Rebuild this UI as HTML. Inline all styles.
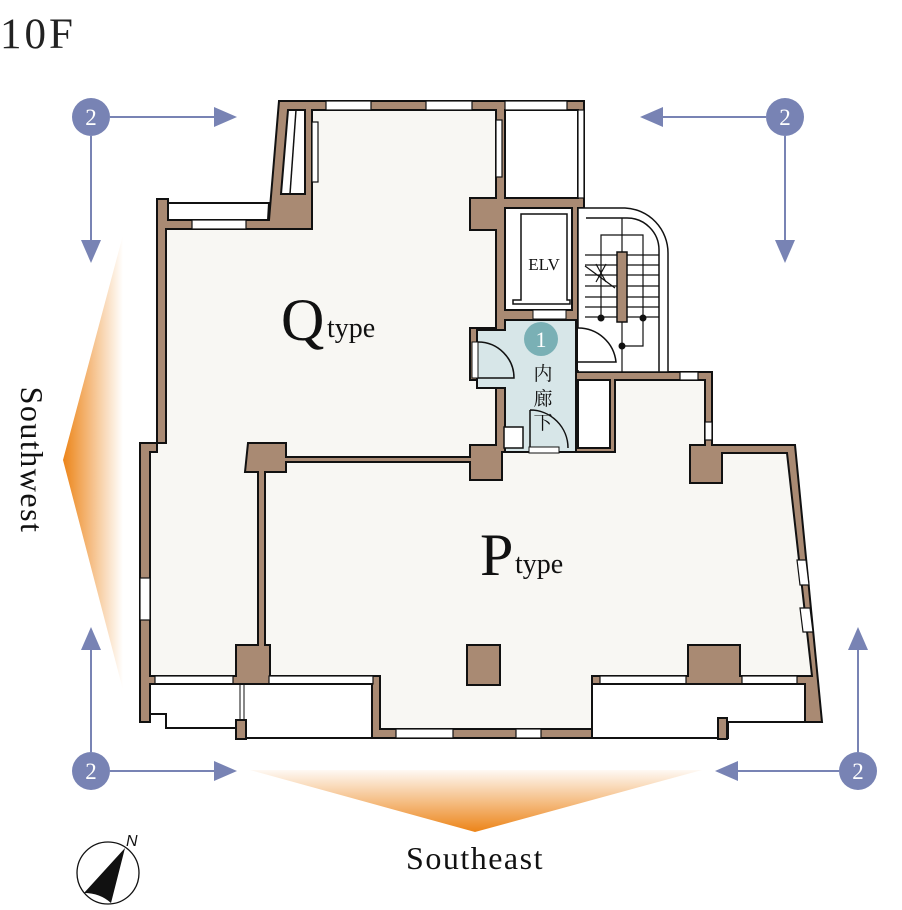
<!DOCTYPE html>
<html><head><meta charset="utf-8"><style>
html,body{margin:0;padding:0;background:#fff;}
svg{display:block;}
</style></head><body>
<svg width="902" height="910" viewBox="0 0 902 910" xmlns="http://www.w3.org/2000/svg">
<defs>
<linearGradient id="gl" x1="0" y1="0" x2="1" y2="0">
<stop offset="0" stop-color="#ec8418"/><stop offset="1" stop-color="#ec8418" stop-opacity="0"/>
</linearGradient>
<linearGradient id="gb" x1="0" y1="1" x2="0" y2="0">
<stop offset="0" stop-color="#ec8418"/><stop offset="1" stop-color="#ec8418" stop-opacity="0.05"/>
</linearGradient>
</defs>
<text x="0" y="48" font-family="Liberation Serif, serif" font-size="43" fill="#222" letter-spacing="3">10F</text>

<!-- orange view fans -->
<polygon points="123,235 63,460 123,690" fill="url(#gl)"/>
<polygon points="250,770 702,770 475,832" fill="url(#gb)"/>

<!-- building walls base -->
<g stroke="#111" stroke-width="2" stroke-linejoin="miter">
<polygon fill="#a98a73" points="279,101 584,101 584,208 578,208 578,372 712,372 712,445 795,445 822,722 805,722 805,684 592,684 592,738 372,738 372,684 150,684 150,722 140,722 140,443 157,443 157,199 168,199 168,220 269,220"/>
<!-- Q floor -->
<polygon fill="#f8f7f3" points="312,110 496,110 496,198 470,198 470,230 496,230 496,328 470,328 470,380 496,380 496,445 470,445 470,457 286,457 286,443 248,443 245,472 258,472 258,645 236,645 236,676 150,676 150,452 157,452 157,443 166,443 166,229 312,229"/>
<!-- P floor -->
<polygon fill="#f8f7f3" points="265,472 286,472 286,462 470,462 470,480 502,480 502,452 615,452 615,380 705,380 705,445 690,445 690,483 722,483 722,453 787,453 812,676 740,676 740,645 688,645 688,676 592,676 592,729 380,729 380,676 270,676 270,645 265,645"/>
<rect x="467" y="645" width="33" height="40" fill="#a98a73"/>
<!-- top-left balcony & window strip -->
<polygon fill="#fff" points="168,203 269,203 268,220 168,220"/>
<polygon fill="#fff" points="288,110 305,110 305,194 281,194"/>
<line x1="296" y1="110" x2="290" y2="194" stroke-width="1.5"/>
<!-- north-east box -->
<rect x="505" y="110" width="73" height="88" fill="#fff"/>
<!-- ELV -->
<rect x="505" y="208" width="67" height="102" fill="#fff"/>
<polygon fill="none" stroke-width="1.5" points="521,214 567,214 567,300 570,300 570,304 513,304 513,300 521,300"/>
<!-- stair -->
<path d="M578,208 H625 A45,45 0 0 1 668,253 V372 H578 Z" fill="#fff" stroke-width="1.5"/>
<path d="M586,218 H627 A32,32 0 0 1 659,250 V372" fill="none" stroke-width="1.5"/>
<g stroke-width="1.2">
<line x1="585" y1="255" x2="659" y2="255"/><line x1="585" y1="265" x2="659" y2="265"/>
<line x1="585" y1="275" x2="659" y2="275"/><line x1="585" y1="286" x2="659" y2="286"/>
<line x1="585" y1="297" x2="659" y2="297"/><line x1="585" y1="307" x2="659" y2="307"/>
<line x1="585" y1="317" x2="659" y2="317"/>
<polyline fill="none" points="601,318 601,235 643,235 643,318"/>
<line x1="622" y1="218" x2="622" y2="372"/>
<polyline fill="none" points="622,346 643,346 643,318"/>
<line x1="585" y1="266" x2="615" y2="288"/>
<line x1="596" y1="264" x2="606" y2="282"/><line x1="606" y1="264" x2="596" y2="282"/>
</g>
<rect x="617" y="252" width="10" height="70" fill="#a98a73" stroke-width="1.5"/>
<circle cx="601" cy="318" r="2.5" fill="#111"/><circle cx="643" cy="318" r="2.5" fill="#111"/><circle cx="622" cy="346" r="2.5" fill="#111"/>
<!-- stair door -->
<rect x="578" y="328" width="38" height="42" fill="#fff" stroke="none"/>
<path d="M578,328 A38,38 0 0 1 616,362 H578" fill="none" stroke-width="1.5"/>
<!-- corridor -->
<polygon fill="#d7e6e8" points="477,330 505,330 505,320 576,320 576,452 505,452 505,388 477,388"/>
<rect x="472" y="342" width="6" height="36" fill="#fff" stroke-width="1"/>
<path d="M478,342 A36,36 0 0 1 514,378 H478" fill="none" stroke-width="1.5"/>
<rect x="504" y="427" width="19" height="21" fill="#fff" stroke-width="1.5"/>
<path d="M530,410 V448 M530,410 A38,38 0 0 1 568,448" fill="none" stroke-width="1.5"/>
<rect x="578" y="380" width="32" height="68" fill="#fff"/>
<rect x="529" y="447" width="30" height="6" fill="#fff" stroke-width="1"/>
<rect x="533" y="310" width="33" height="9" fill="#fff" stroke-width="1"/>
<!-- windows -->
<g fill="#fff" stroke-width="1.2">
<rect x="326" y="101" width="45" height="9"/><rect x="426" y="101" width="46" height="9"/>
<rect x="505" y="101" width="62" height="9"/>
<rect x="312" y="122" width="6" height="60"/><rect x="496" y="120" width="6" height="57"/>
<rect x="578" y="110" width="6" height="88"/>
<rect x="192" y="220" width="54" height="9"/>
<rect x="140" y="578" width="10" height="42"/>
<rect x="705" y="422" width="7" height="18"/><rect x="680" y="372" width="18" height="8"/>
<polygon points="797,560 806,560 809,585 800,585"/><polygon points="800,608 810,608 813,632 803,632"/>
<rect x="155" y="676" width="78" height="8"/><rect x="269" y="676" width="104" height="8"/>
<rect x="600" y="676" width="86" height="8"/><rect x="742" y="676" width="55" height="8"/>
<rect x="396" y="729" width="57" height="9"/><rect x="516" y="729" width="25" height="9"/>
</g>
<!-- bottom balconies -->
<polygon fill="#fff" points="150,684 372,684 372,738 246,738 246,728 166,728 166,714 150,714"/>
<polygon fill="#fff" points="592,684 805,684 805,722 728,722 728,738 592,738"/>
<rect x="236" y="720" width="10" height="19" fill="#a98a73"/>
<rect x="718" y="718" width="9" height="21" fill="#a98a73"/>
<line x1="240" y1="684" x2="240" y2="720" stroke-width="1"/><line x1="244" y1="684" x2="244" y2="720" stroke-width="1"/>
</g>

<!-- labels -->
<text x="281" y="340" font-family="Liberation Serif, serif" font-size="60" fill="#111">Q</text>
<text x="327" y="337" font-family="Liberation Serif, serif" font-size="28" fill="#111">type</text>
<text x="480" y="575" font-family="Liberation Serif, serif" font-size="60" fill="#111">P</text>
<text x="515" y="573" font-family="Liberation Serif, serif" font-size="28" fill="#111">type</text>
<text x="544" y="270" text-anchor="middle" font-family="Liberation Serif, serif" font-size="17" fill="#111">ELV</text>
<circle cx="541" cy="339" r="17" fill="#7ab0b5"/>
<text x="541" y="347" text-anchor="middle" font-family="Liberation Serif, serif" font-size="22" fill="#fff">1</text>
<g font-family="Liberation Serif, 'Noto Serif CJK SC', serif" font-size="19" fill="#111" text-anchor="middle">
<text x="543" y="380">内</text><text x="543" y="405">廊</text><text x="543" y="429">下</text>
</g>

<!-- arrows -->
<g stroke="#7883b4" stroke-width="2" fill="#7883b4">
<line x1="110" y1="117" x2="220" y2="117"/><polygon points="237,117 214,107 214,127" stroke="none"/>
<line x1="91" y1="136" x2="91" y2="246"/><polygon points="91,263 81,240 101,240" stroke="none"/>
<line x1="766" y1="117" x2="657" y2="117"/><polygon points="640,117 663,107 663,127" stroke="none"/>
<line x1="785" y1="136" x2="785" y2="246"/><polygon points="785,263 775,240 795,240" stroke="none"/>
<line x1="91" y1="752" x2="91" y2="644"/><polygon points="91,627 81,650 101,650" stroke="none"/>
<line x1="110" y1="771" x2="220" y2="771"/><polygon points="237,771 214,761 214,781" stroke="none"/>
<line x1="839" y1="771" x2="732" y2="771"/><polygon points="715,771 738,761 738,781" stroke="none"/>
<line x1="858" y1="752" x2="858" y2="644"/><polygon points="858,627 848,650 868,650" stroke="none"/>
<circle cx="91" cy="117" r="19" stroke="none"/><circle cx="785" cy="117" r="19" stroke="none"/>
<circle cx="91" cy="771" r="19" stroke="none"/><circle cx="858" cy="771" r="19" stroke="none"/>
</g>
<g font-family="Liberation Serif, serif" font-size="23" fill="#fff" text-anchor="middle">
<text x="91" y="125">2</text><text x="785" y="125">2</text><text x="91" y="779">2</text><text x="858" y="779">2</text>
</g>

<text x="475" y="869" text-anchor="middle" font-family="Liberation Serif, serif" font-size="32" fill="#111" letter-spacing="1.5">Southeast</text>
<text transform="translate(21,460) rotate(90)" text-anchor="middle" font-family="Liberation Serif, serif" font-size="32" fill="#111" letter-spacing="1.5">Southwest</text>

<!-- compass -->
<circle cx="108" cy="873" r="31" fill="none" stroke="#111" stroke-width="1.3"/>
<path d="M125,848 L84,893 Q100,893 111,903 Z" fill="#111"/>
<text x="126" y="846" font-family="Liberation Sans, sans-serif" font-style="italic" font-size="16" fill="#111">N</text>
</svg>
</body></html>
